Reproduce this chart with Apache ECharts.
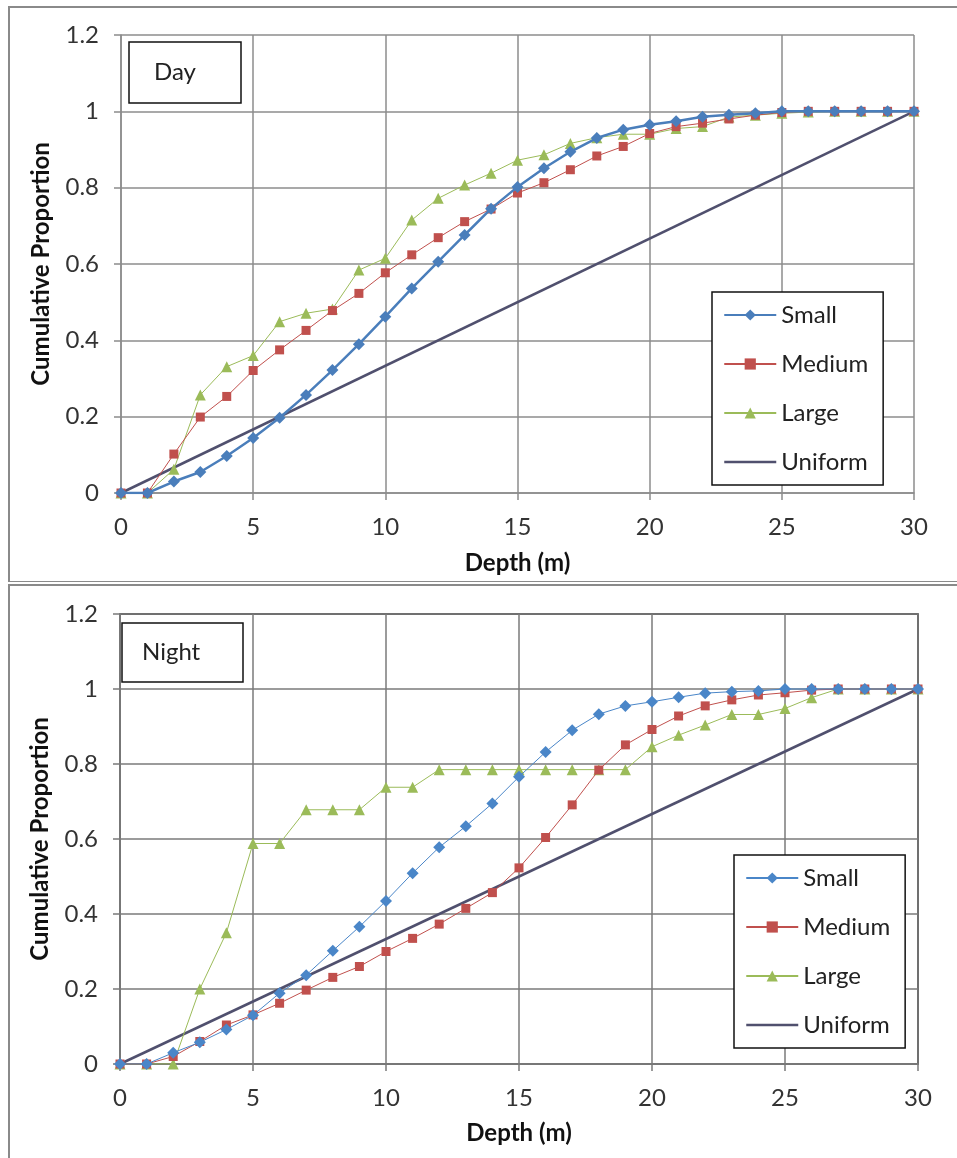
<!DOCTYPE html>
<html>
<head>
<meta charset="utf-8">
<script src="https://cdn.jsdelivr.net/npm/echarts@6/dist/echarts.min.js"></script>
<style>
  html, body { margin: 0; padding: 0; background: #fff; }
  #day { position: absolute; left: 0; top: 0; width: 957px; height: 582px; }
  #night { position: absolute; left: 0; top: 582px; width: 957px; height: 576px; }
</style>
</head>
<body>
<div id="day"></div>
<div id="night"></div>
<script>
// Depth bins (m)
const depths = [0, 1, 2, 3, 4, 5, 6, 7, 8, 9, 10, 11, 12, 13, 14, 15, 16, 17, 18, 19, 20,
                21, 22, 23, 24, 25, 26, 27, 28, 29, 30];

// Cumulative proportion by depth – daytime
const daySmall  = [0, 0, 0.03, 0.055, 0.097, 0.144, 0.197, 0.257, 0.322, 0.39, 0.462, 0.536, 0.606, 0.676, 0.745, 0.802,
                   0.851, 0.894, 0.93, 0.952, 0.965, 0.974, 0.986, 0.991, 0.995, 1, 1, 1, 1, 1, 1];
const dayMedium = [0, 0, 0.102, 0.199, 0.253, 0.321, 0.375, 0.426, 0.478, 0.523, 0.577, 0.624, 0.669, 0.711, 0.744, 0.786,
                   0.813, 0.847, 0.883, 0.908, 0.942, 0.96, 0.969, 0.98, 0.99, 0.997, 1, 1, 1, 1, 1];
const dayLarge  = [0, 0, 0.062, 0.257, 0.331, 0.36, 0.449, 0.471, 0.482, 0.584, 0.615, 0.715, 0.772, 0.807, 0.838, 0.872,
                   0.886, 0.916, 0.931, 0.94, 0.94, 0.955, 0.96, 0.985, 0.99, 0.995, 0.998, 1, 1, 1, 1];

// Cumulative proportion by depth – night-time
const nightSmall  = [0, 0, 0.03, 0.058, 0.092, 0.13, 0.189, 0.237, 0.302, 0.366, 0.435, 0.509, 0.578, 0.634, 0.695, 0.766,
                     0.832, 0.89, 0.933, 0.955, 0.966, 0.978, 0.989, 0.993, 0.995, 1, 1, 1, 1, 1, 1];
const nightMedium = [0, 0, 0.02, 0.06, 0.104, 0.131, 0.162, 0.197, 0.231, 0.26, 0.30, 0.335, 0.373, 0.415, 0.457, 0.523,
                     0.604, 0.691, 0.784, 0.851, 0.892, 0.928, 0.955, 0.971, 0.984, 0.99, 0.997, 1, 1, 1, 1];
const nightLarge  = [0, 0, 0, 0.2, 0.35, 0.588, 0.588, 0.678, 0.678, 0.678, 0.738, 0.738, 0.785, 0.785, 0.785, 0.785,
                     0.785, 0.785, 0.785, 0.785, 0.846, 0.877, 0.904, 0.932, 0.932, 0.948, 0.977, 1, 1, 1, 1];

// Uniform reference distribution: straight line from the surface to 30 m
const uniformDepths = [0, 30];
const uniformValues = [0, 1];

const seriesNames = ['Small', 'Medium', 'Large', 'Uniform'];
const FONT = 'Lato, "Open Sans", sans-serif';
const TEXT = '#333333';
const UNIFORM_COLOR = '#50506e';

function pairs(xs, ys) { return xs.map((x, i) => [x, ys[i]]); }

function buildOption(p) {
  const gridColor = p.gridColor;
  return {
    animation: false,
    backgroundColor: '#fff',
    textStyle: { fontFamily: FONT },
    grid: { left: p.grid.left, top: p.grid.top, width: p.grid.width, height: p.grid.height,
            show: p.grid.border, borderColor: '#1e1e1e', borderWidth: 1.5, backgroundColor: 'transparent' },
    xAxis: {
      type: 'value', min: 0, max: 30, interval: 5,
      name: 'Depth (m)', nameLocation: 'middle', nameGap: p.xNameGap,
      nameTextStyle: { fontFamily: FONT, fontWeight: 'bold', fontSize: 24, color: '#111' },
      axisLine: { show: true, lineStyle: { color: gridColor, width: 1.5 } },
      axisTick: { show: true, inside: false, length: 7, lineStyle: { color: gridColor, width: 1.5 } },
      axisLabel: { fontFamily: FONT, fontSize: 24, color: TEXT, margin: p.xLabelMargin },
      splitLine: { show: true, lineStyle: { color: gridColor, width: 1.5 } }
    },
    yAxis: {
      type: 'value', min: 0, max: 1.2, interval: 0.2,
      name: 'Cumulative Proportion', nameLocation: 'middle', nameGap: 68,
      nameTextStyle: { fontFamily: FONT, fontWeight: 'bold', fontSize: 24, color: '#111' },
      axisLine: { show: true, lineStyle: { color: gridColor, width: 1.5 } },
      axisTick: { show: true, inside: false, length: 7, lineStyle: { color: gridColor, width: 1.5 } },
      axisLabel: { fontFamily: FONT, fontSize: 24, color: TEXT, margin: 22 },
      splitLine: { show: true, lineStyle: { color: gridColor, width: 1.5 } }
    },
    legend: {
      orient: 'vertical', left: p.legend.left, top: p.legend.top,
      padding: [11, 15, 11, 11], itemWidth: 52, itemHeight: 14, itemGap: 25,
      borderColor: '#111', borderWidth: 1.5, backgroundColor: '#fff',
      textStyle: { fontFamily: FONT, fontSize: 24, color: '#222' },
      data: seriesNames.map(n => n === 'Uniform'
        ? { name: n, itemStyle: { opacity: 0 }, lineStyle: { color: UNIFORM_COLOR, width: 2.5 } }
        : n)
    },
    graphic: [
      { type: 'rect', z: 0, silent: true,
        shape: { x: 9, y: p.frameTop, width: 1000, height: p.frameHeight },
        style: { fill: 'none', stroke: '#8a8a8a', lineWidth: 2 } },
      { type: 'rect', z: 100, silent: true,
        shape: { x: p.tag.x, y: p.tag.y, width: p.tag.w, height: p.tag.h },
        style: { fill: '#fff', stroke: '#111', lineWidth: 1.5 } },
      { type: 'text', z: 101, silent: true,
        x: p.tag.x + p.tag.pad, y: p.tag.y + p.tag.h / 2,
        style: { text: p.tag.text, fontFamily: FONT, fontSize: 24, fill: '#222', verticalAlign: 'middle' } }
    ],
    series: [
      { name: 'Small', type: 'line', data: pairs(depths, p.small), symbol: 'diamond', symbolSize: 12,
        lineStyle: { color: p.smallColor, width: p.smallWidth }, itemStyle: { color: p.smallColor }, z: 5 },
      { name: 'Medium', type: 'line', data: pairs(depths, p.medium), symbol: 'rect', symbolSize: 9,
        lineStyle: { color: '#c0504d', width: 1 }, itemStyle: { color: '#c0504d' }, z: 4 },
      { name: 'Large', type: 'line', data: pairs(depths, p.large), symbol: 'triangle', symbolSize: 11,
        lineStyle: { color: '#9bbb59', width: 1 }, itemStyle: { color: '#9bbb59' }, z: 3 },
      { name: 'Uniform', type: 'line', data: pairs(uniformDepths, uniformValues), symbol: 'none',
        lineStyle: { color: UNIFORM_COLOR, width: 2.5 }, itemStyle: { color: UNIFORM_COLOR }, z: 2 }
    ]
  };
}

const dayChart = echarts.init(document.getElementById('day'), null, { renderer: 'canvas' });
dayChart.setOption(buildOption({
  grid: { left: 121, top: 35, width: 793, height: 458, border: false },
  gridColor: '#8c8c8c',
  xNameGap: 58, xLabelMargin: 22,
  legend: { left: 712, top: 292 },
  frameTop: 7, frameHeight: 575,
  tag: { x: 129, y: 42, w: 112, h: 61, pad: 25, text: 'Day' },
  small: daySmall, medium: dayMedium, large: dayLarge,
  smallColor: '#4a7ebb', smallWidth: 2.5
}));

const nightChart = echarts.init(document.getElementById('night'), null, { renderer: 'canvas' });
nightChart.setOption(buildOption({
  grid: { left: 120, top: 32, width: 798, height: 450, border: true },
  gridColor: '#7a7a7a',
  xNameGap: 57, xLabelMargin: 22,
  legend: { left: 734, top: 273 },
  frameTop: 3, frameHeight: 1000,
  tag: { x: 122, y: 41, w: 121, h: 59, pad: 20, text: 'Night' },
  small: nightSmall, medium: nightMedium, large: nightLarge,
  smallColor: '#4a86c8', smallWidth: 1
}));
</script>
</body>
</html>
